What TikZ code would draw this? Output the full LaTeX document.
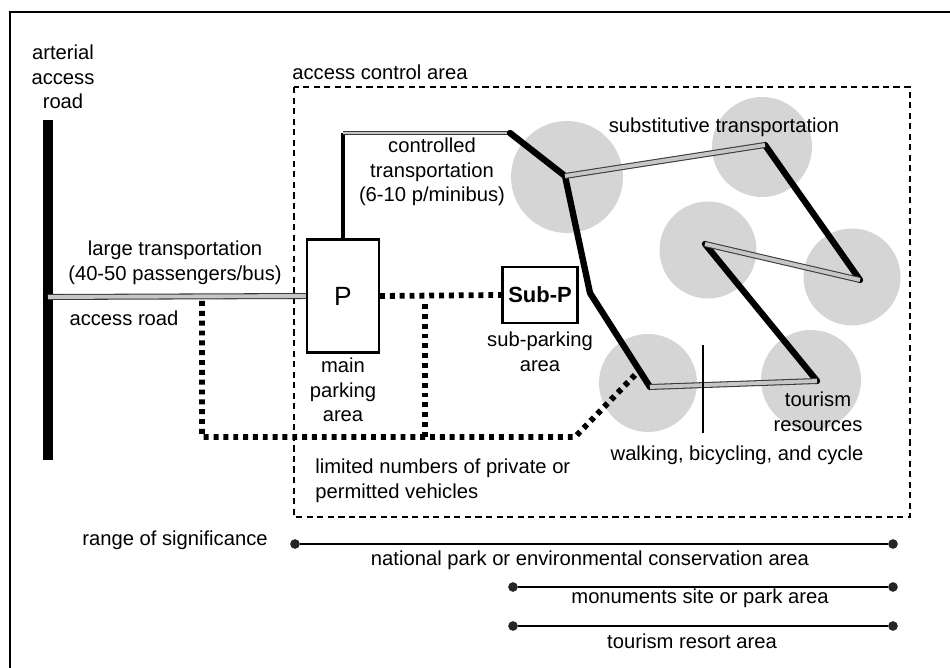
\documentclass[tikz,border=0pt]{standalone}
\usepackage{fontspec}
\setmainfont{Liberation Sans}
\usetikzlibrary{positioning}

\begin{document}
\begin{tikzpicture}[x=0.02cm,y=-0.02cm,
  every node/.style={font=\fontsize{11.5}{14}\selectfont},
  lbl/.style={align=center,inner sep=0pt},
  park/.style={draw,line width=1.2pt,inner sep=0pt},
  spot/.style={circle,fill=gray!33,inner sep=0pt,minimum size=2cm},
  trunk/.style={line width=3.6pt,line join=round,line cap=round},
  transit/.style={draw=gray!45!black,double=gray!45,double distance=2.2pt,line width=0.6pt},
  privroute/.style={line width=3.3pt,dash pattern=on 2.8pt off 2.8pt},
  zone/.style={line width=1.1pt,dash pattern=on 3.5pt off 2.5pt},
  rdot/.style={circle,fill=black!85,inner sep=0pt,minimum size=5.5pt}]
  \useasboundingbox (0,0) rectangle (950,668);
  \draw[line width=0.8pt] (10,668) |- (950,12);

  % resource spots
  \node (spotA) [spot,minimum size=2.24cm] at (567,177) {};
  \node (spotF) [spot] at (762,147) {};
  \node (spotD) [spot,minimum size=1.94cm] at (708,250) {};
  \node (spotE) [spot,minimum size=1.94cm] at (852,277) {};
  \node (spotB) [spot,minimum size=1.96cm] at (648,383) {};
  \node (spotC) [spot] at (811,380) {};

  \draw[zone] (294,87) rectangle (910,517);
  \node (zonelbl) [lbl,anchor=west] at (292,72) {access control area};

  % arterial road and access road
  \coordinate (artTop) at (48,120);
  \coordinate (artBot) at (48,460);
  \coordinate (artJ) at (48,297);
  \draw[line width=5.7pt] (artTop) -- (artBot);
  \node (art) [lbl] at (63,77) {arterial\\access\\road};

  \node (P) [park,minimum width=1.44cm,minimum height=2.26cm,font=\fontsize{15}{18}\selectfont] at (343,296) {P};
  \node (mainlbl) [lbl] at (343,390) {main\\parking\\area};
  \node (subp) [park,minimum width=1.5cm,minimum height=1.12cm,font=\fontsize{12.5}{15}\selectfont\bfseries] at (540,295) {Sub-P};
  \node (sublbl) [lbl] at (540,352) {sub-parking\\area};

  \draw[transit] (artJ) -- (P.west);
  \node (big) [lbl] at (175,263) {large transportation\\(40-50 passengers/bus)};
  \node (accroad) [lbl] at (124,318) {access road};

  % private vehicles
  \coordinate (j0) at (202,301);
  \coordinate (j1) at (202,437);
  \coordinate (j2) at (575,437);
  \coordinate (j3) at (635,375);
  \coordinate (j4) at (425,304);
  \coordinate (j5) at (425,437);
  \draw[privroute] (P.east) -- (subp.west);
  \draw[privroute] (j0) -- (j1) -- (j2) -- (j3);
  \draw[privroute] (j4) -- (j5);
  \node (limit) [lbl,align=left,anchor=west] at (315,481) {limited numbers of private or\\permitted vehicles};

  % controlled and substitutive transportation
  \coordinate (k0) at (343,133);
  \coordinate (k1) at (510,133);
  \coordinate (hubA) at (565,176);
  \coordinate (bend) at (590,293);
  \coordinate (hubB) at (650,387);
  \coordinate (hubC) at (817,381);
  \coordinate (hubD) at (705,244);
  \coordinate (hubE) at (860,280);
  \coordinate (hubF) at (765,145);
  \draw[line width=2pt] (P.north) -- (k0);
  \draw[transit,double distance=1.2pt] (k0) -- (k1);
  \draw[trunk] (k1) -- (hubA) -- (bend) -- (hubB);
  \draw[trunk] (hubC) -- (hubD);
  \draw[trunk] (hubE) -- (hubF);
  \draw[transit] (hubB) -- (hubC);
  \draw[transit] (hubD) -- (hubE);
  \draw[transit] (hubF) -- (hubA);
  \draw[line width=1.3pt] (703,345) -- (703,433);

  \node (ctrl) [lbl] at (432,172) {controlled\\transportation\\(6-10 p/minibus)};
  \node (subst) [lbl] at (724,127) {substitutive transportation};
  \node (tour) [lbl] at (818,412) {tourism\\resources};
  \node (walk) [lbl] at (737,455) {walking, bicycling, and cycle};

  % range of significance
  \node (range) [lbl] at (175,540) {range of significance};
  \node (ra1) [rdot] at (295,544) {};
  \node (rb1) [rdot] at (893,544) {};
  \node (ra2) [rdot] at (513,587) {};
  \node (rb2) [rdot] at (893,587) {};
  \node (ra3) [rdot] at (513,626) {};
  \node (rb3) [rdot] at (893,626) {};
  \path[draw,line width=0.6pt]
    (ra1) edge (rb1)
    (ra2) edge (rb2)
    (ra3) edge (rb3);
  \node (natl) [lbl] at (590,560) {national park or environmental conservation area};
  \node (monu) [lbl] at (700,598) {monuments site or park area};
  \node (resort) [lbl] at (692,641) {tourism resort area};
\end{tikzpicture}
\end{document}
